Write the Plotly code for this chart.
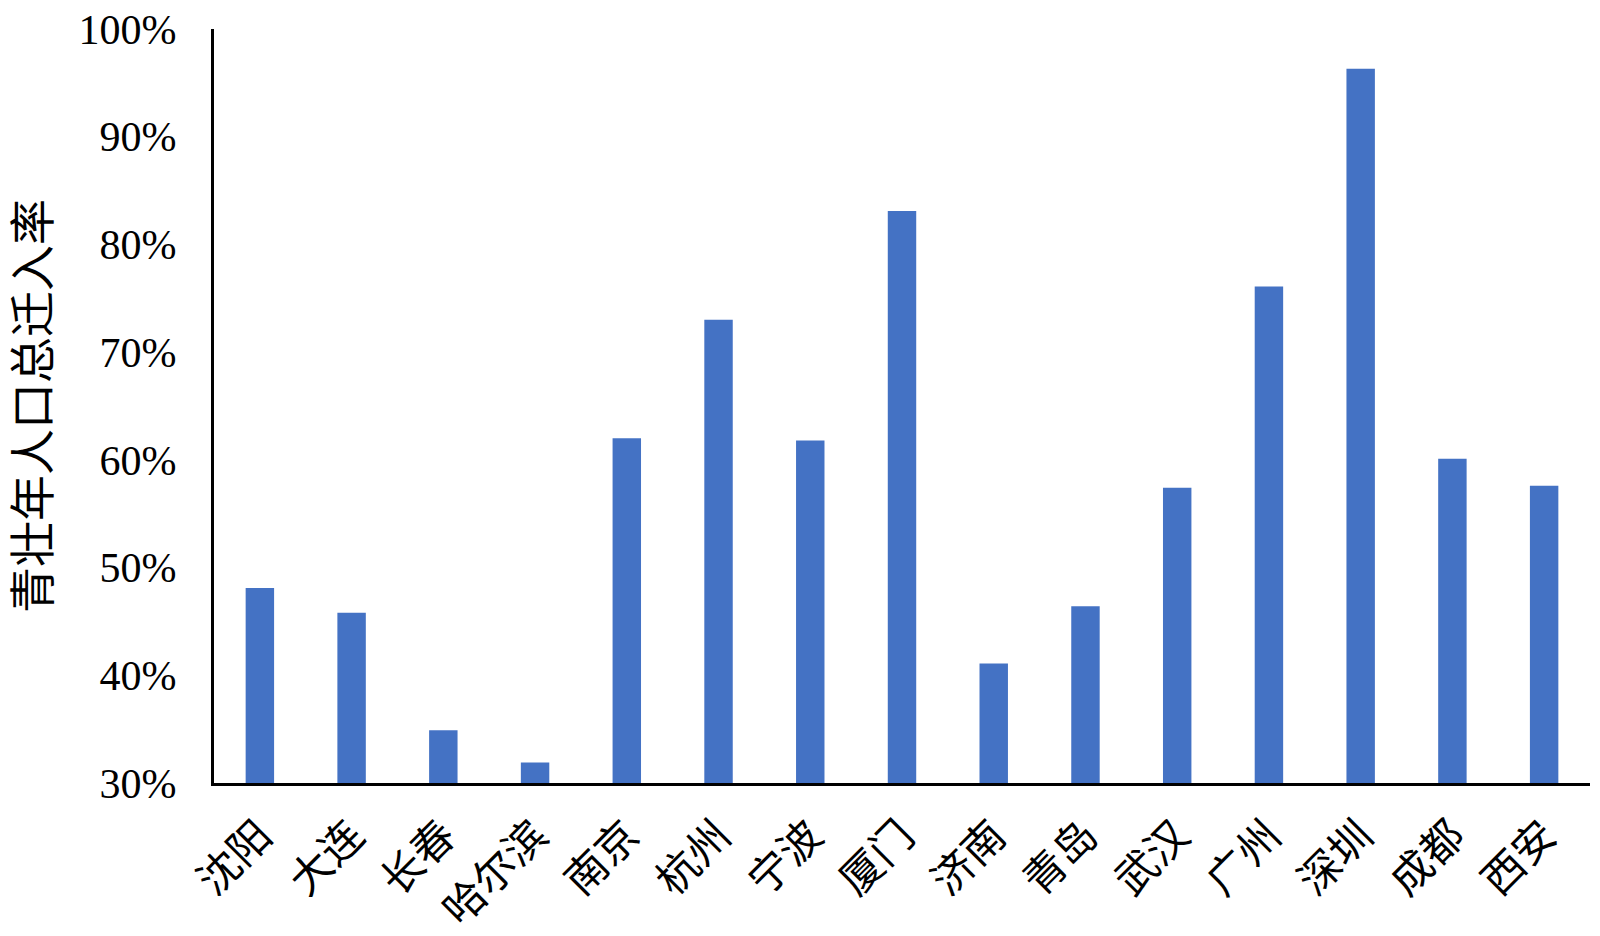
import plotly.graph_objects as go

cities = ["沈阳", "大连", "长春", "哈尔滨", "南京", "杭州", "宁波", "厦门",
          "济南", "青岛", "武汉", "广州", "深圳", "成都", "西安"]
rates = [0.481, 0.458, 0.349, 0.319, 0.620, 0.730, 0.618, 0.831,
         0.411, 0.464, 0.574, 0.761, 0.963, 0.601, 0.576]
y_ticks = [0.3, 0.4, 0.5, 0.6, 0.7, 0.8, 0.9, 1.0]
y_title = "青壮年人口总迁入率"

font_family = "Liberation Serif, Noto Sans CJK SC, serif"

fig = go.Figure(go.Bar(x=cities, y=rates, marker_color="#4472C4",
                       marker_line_width=0))

fig.update_layout(
    width=1592, height=928,
    margin=dict(l=206, r=10, t=21, b=153),
    plot_bgcolor="white", paper_bgcolor="white",
    bargap=0.69,
    showlegend=False,
    font=dict(family=font_family, color="black", size=40),
)
fig.update_yaxes(
    range=[0.3, 1.0], tickvals=y_ticks, tickformat=".0%",
    showgrid=False, zeroline=False, automargin=False,
    showline=True, linecolor="black", linewidth=3,
    ticks="", ticklabelstandoff=26, ticklabeloverflow="allow",
    tickfont=dict(size=42, family=font_family),
    title=dict(text=y_title, font=dict(size=46, family=font_family), standoff=28),
)
fig.update_xaxes(
    showgrid=False, showline=True, linecolor="black", linewidth=3,
    automargin=False, ticklabeloverflow="allow",
    ticks="", tickangle=-45, ticklabelstandoff=8,
    tickfont=dict(size=42, family=font_family),
)

fig.write_html("out.html")
